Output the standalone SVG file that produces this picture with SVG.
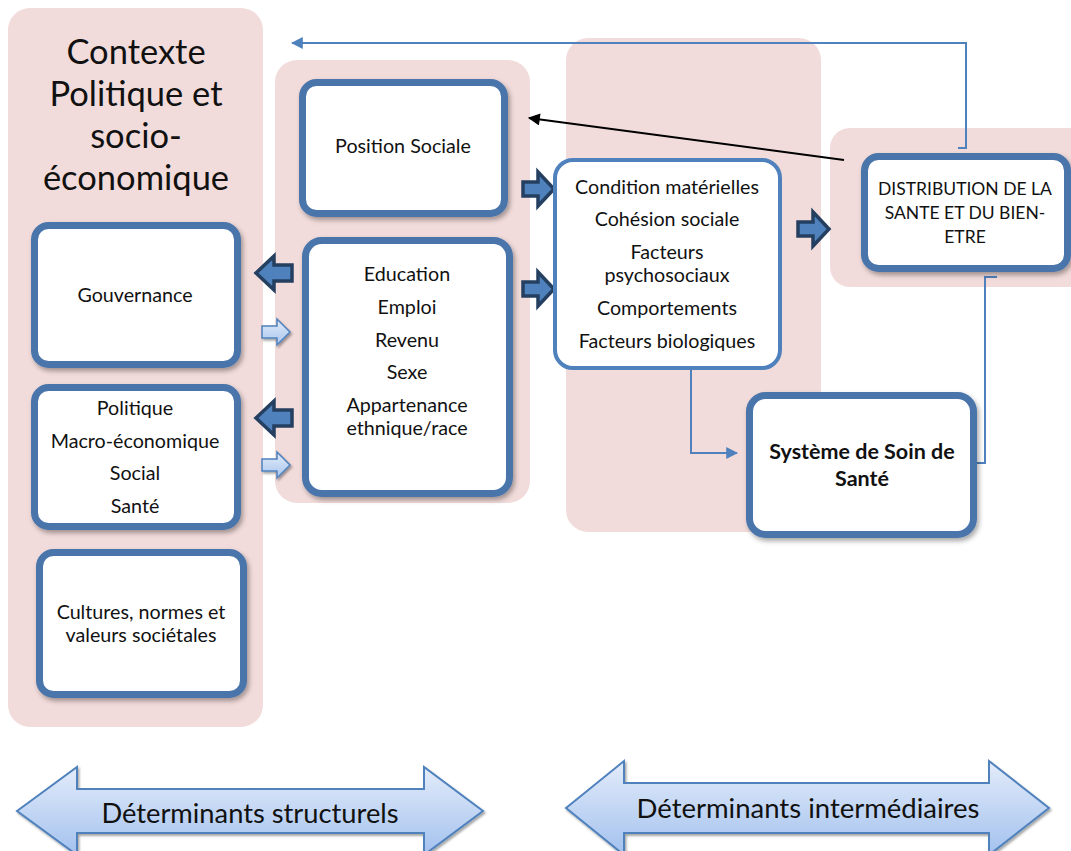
<svg xmlns="http://www.w3.org/2000/svg" width="1071" height="851" viewBox="0 0 1071 851">
<defs>
<style>
.panel{fill:#f2dcdb;}
.box{fill:#ffffff;stroke:#4a75ab;stroke-width:7;filter:url(#sh);}
.box2{fill:#ffffff;stroke:#4f81bd;stroke-width:4;}
.t{font-family:Lato,"Liberation Sans",sans-serif;fill:#111;text-anchor:middle;}
.n{font-size:19.7px;}
.dk{fill:#4f81bd;stroke:#243f60;stroke-width:3.5;stroke-linejoin:miter;}
.lt{fill:url(#lg);stroke:#4f81bd;stroke-width:1.5;filter:url(#sh2);}
.big{fill:url(#bg);stroke:#4f81bd;stroke-width:2;filter:url(#sh2);}
.conn{fill:none;stroke:#4f81bd;stroke-width:2;}
</style>
<filter id="sh" x="-10%" y="-10%" width="125%" height="125%">
<feDropShadow dx="2" dy="3" stdDeviation="2.5" flood-color="#000" flood-opacity="0.35"/>
</filter>
<filter id="sh2" x="-10%" y="-10%" width="125%" height="130%">
<feDropShadow dx="1.5" dy="2" stdDeviation="1" flood-color="#000" flood-opacity="0.35"/>
</filter>
<linearGradient id="lg" x1="0" y1="0" x2="0" y2="1">
<stop offset="0" stop-color="#e1ebf9"/>
<stop offset="1" stop-color="#a9c6ef"/>
</linearGradient>
<linearGradient id="bg" x1="0" y1="0" x2="0" y2="1">
<stop offset="0" stop-color="#e3ecfa"/>
<stop offset="1" stop-color="#a3c1ee"/>
</linearGradient>
<marker id="abl" viewBox="0 0 10 10" refX="9" refY="5" markerWidth="12" markerHeight="12" orient="auto" markerUnits="userSpaceOnUse">
<path d="M0,0 L10,5 L0,10 Z" fill="#4f81bd"/>
</marker>
<marker id="abk" viewBox="0 0 10 10" refX="9" refY="5" markerWidth="15" markerHeight="12" orient="auto" markerUnits="userSpaceOnUse">
<path d="M0,0 L10,5 L0,10 Z" fill="#000"/>
</marker>
</defs>
<rect width="1071" height="851" fill="#ffffff"/>

<g id="panels">
<rect class="panel" x="8" y="8" width="255" height="719" rx="22"/>
<rect class="panel" x="275" y="60" width="255" height="443" rx="22"/>
<rect class="panel" x="566" y="38" width="255" height="494" rx="22"/>
<rect class="panel" x="830" y="128" width="260" height="159" rx="20"/>
</g>

<g id="title">
<text class="t" x="136" y="64" font-size="34.5">Contexte</text>
<text class="t" x="136" y="106" font-size="34.5">Politique et</text>
<text class="t" x="136" y="148" font-size="34.5">socio-</text>
<text class="t" x="136" y="190" font-size="34.5">économique</text>
</g>

<g id="connectors">
<path class="conn" d="M958,148 H966 V43 H292" marker-end="url(#abl)"/>
<line x1="844" y1="160" x2="529" y2="118" stroke="#000" stroke-width="2" marker-end="url(#abk)"/>
<path class="conn" d="M645,369 H691 V453 H737" marker-end="url(#abl)"/>
<path class="conn" d="M997,277 H985 V463 H977"/>
</g>

<g id="block-arrows">
<path class="dk" transform="translate(523,189)" d="M0,-7 H15 V-17 L31,0 L15,17 V7 H0 Z"/>
<path class="dk" transform="translate(523,289)" d="M0,-7 H15 V-17 L31,0 L15,17 V7 H0 Z"/>
<path class="dk" transform="translate(798,229)" d="M0,-7 H15 V-17 L31,0 L15,17 V7 H0 Z"/>
<path class="dk" transform="translate(256,273)" d="M36,-8 H18 V-17 L0,0 L18,17 V8 H36 Z"/>
<path class="dk" transform="translate(256,418)" d="M36,-8 H18 V-17 L0,0 L18,17 V8 H36 Z"/>
<path class="lt" transform="translate(262,332)" d="M0,-6 H15 V-13 L28,0 L15,13 V6 H0 Z"/>
<path class="lt" transform="translate(262,465)" d="M0,-6 H15 V-13 L28,0 L15,13 V6 H0 Z"/>
</g>

<g id="n-position">
<rect class="box" x="302.5" y="82.5" width="202" height="131" rx="14"/>
<text class="t n" x="403" y="153">Position Sociale</text>
</g>

<g id="n-education">
<rect class="box" x="305.5" y="240.5" width="204" height="253" rx="16"/>
<text class="t n" x="407" y="281">Education</text>
<text class="t n" x="407" y="314">Emploi</text>
<text class="t n" x="407" y="347">Revenu</text>
<text class="t n" x="407" y="379">Sexe</text>
<text class="t n" x="407" y="412">Appartenance</text>
<text class="t n" x="407" y="435">ethnique/race</text>
</g>

<g id="n-gouvernance">
<rect class="box" x="34.5" y="225.5" width="203" height="139" rx="14"/>
<text class="t n" x="135" y="302">Gouvernance</text>
</g>

<g id="n-politique">
<rect class="box" x="34.5" y="387.5" width="203" height="139" rx="14"/>
<text class="t n" x="135" y="415">Politique</text>
<text class="t n" x="135" y="448">Macro-économique</text>
<text class="t n" x="135" y="480">Social</text>
<text class="t n" x="135" y="513">Santé</text>
</g>

<g id="n-cultures">
<rect class="box" x="39.5" y="552.5" width="204" height="142" rx="14"/>
<text class="t n" x="141" y="619">Cultures, normes et</text>
<text class="t n" x="141" y="642">valeurs sociétales</text>
</g>

<g id="n-conditions">
<rect class="box2" x="555" y="160" width="225" height="208" rx="18"/>
<text class="t n" x="667" y="194">Condition matérielles</text>
<text class="t n" x="667" y="226">Cohésion sociale</text>
<text class="t n" x="667" y="259">Facteurs</text>
<text class="t n" x="667" y="282">psychosociaux</text>
<text class="t n" x="667" y="315">Comportements</text>
<text class="t n" x="667" y="348">Facteurs biologiques</text>
</g>

<g id="n-distribution">
<rect class="box" x="864.5" y="156.5" width="203" height="112" rx="14"/>
<text class="t" x="965" y="195" font-size="17.5">DISTRIBUTION DE LA</text>
<text class="t" x="965" y="219" font-size="17.5">SANTE ET DU BIEN-</text>
<text class="t" x="965" y="243" font-size="17.5">ETRE</text>
</g>

<g id="n-systeme">
<rect class="box" x="749.5" y="395.5" width="224" height="139" rx="16"/>
<text class="t" x="862" y="459" font-size="21.5" font-weight="bold">Système de Soin de</text>
<text class="t" x="862" y="486" font-size="21.5" font-weight="bold">Santé</text>
</g>

<g id="n-structurels">
<path class="big" d="M17,811 L77,767 V789 H424 V767 L483,811 L424,855 V833 H77 V855 Z"/>
<text class="t" x="250" y="823" font-size="27.3">Déterminants structurels</text>
</g>

<g id="n-intermediaires">
<path class="big" d="M566,808 L624,761 V783 H989 V761 L1049,808 L989,855 V833 H624 V855 Z"/>
<text class="t" x="808" y="818" font-size="27.5">Déterminants intermédiaires</text>
</g>
</svg>
